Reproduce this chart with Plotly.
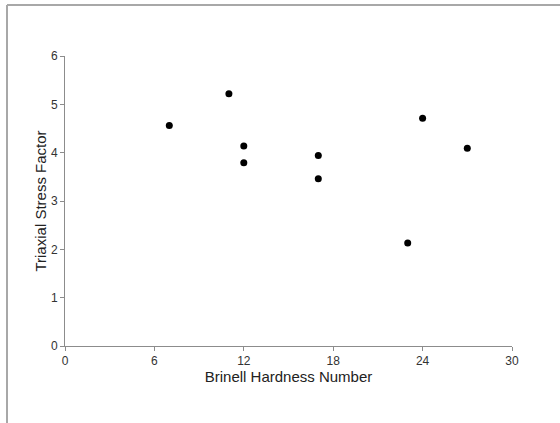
import plotly.graph_objects as go

brinell = [7, 11, 12, 12, 17, 17, 23, 24, 27]
triaxial = [4.56, 5.22, 4.14, 3.79, 3.94, 3.46, 2.13, 4.71, 4.09]

x_ticks = [0, 6, 12, 18, 24, 30]
y_ticks = [0, 1, 2, 3, 4, 5, 6]

W, H = 560, 423
L, R, T, B = 65, 48, 56, 77
pw, ph = W - L - R, H - T - B

fig = go.Figure()
fig.add_trace(go.Scatter(
    x=brinell, y=triaxial, mode="markers",
    marker=dict(color="black", size=7, line=dict(width=0)),
    showlegend=False, hoverinfo="x+y"))

axis_common = dict(
    showgrid=False, zeroline=False, showline=True, linecolor="#8c8c8c",
    linewidth=1, ticks="outside", ticklen=4, tickcolor="#8c8c8c",
    tickfont=dict(family="Liberation Sans, Arial", size=12, color="#333333"),
)

fig.update_layout(
    width=W, height=H,
    margin=dict(l=L, r=R, t=T, b=B),
    paper_bgcolor="white", plot_bgcolor="white",
    xaxis=dict(range=[0, 30], tickvals=x_ticks,
               title=dict(text="Brinell Hardness Number", standoff=3,
                          font=dict(family="Liberation Sans, Arial", size=15, color="#222222")),
               **axis_common),
    yaxis=dict(range=[0, 6], tickvals=y_ticks,
               title=dict(text="Triaxial Stress Factor", standoff=0,
                          font=dict(family="Liberation Sans, Arial", size=15, color="#222222")),
               **axis_common),
)

# gray frame lines at top and left edges of the picture
x_left = (7 - L) / pw
y_top = (H - B - 5) / ph
fig.add_shape(type="line", xref="paper", yref="paper",
              x0=x_left, x1=(W - L) / pw + 0.1, y0=y_top, y1=y_top,
              line=dict(color="#a8a8a8", width=2))
fig.add_shape(type="line", xref="paper", yref="paper",
              x0=x_left, x1=x_left, y0=y_top, y1=-(B + 10) / ph,
              line=dict(color="#a8a8a8", width=2))

fig.write_html("out.html")
